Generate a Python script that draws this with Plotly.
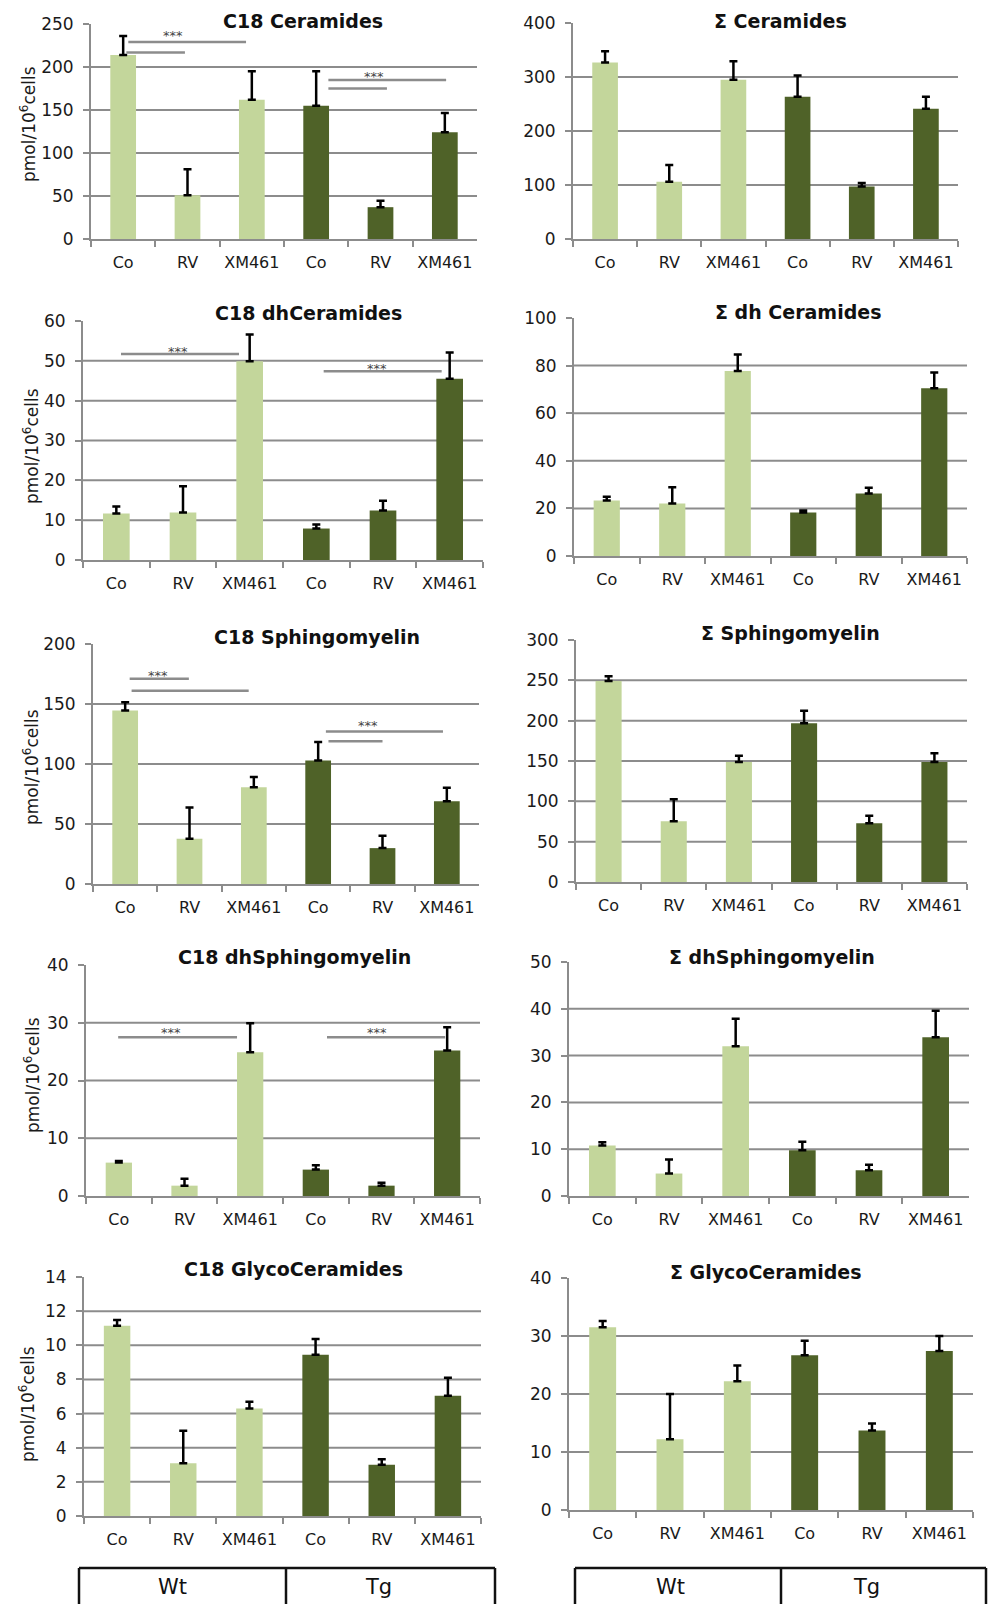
import plotly.graph_objects as go

# ---------------- data ----------------
groups = ["Wt", "Wt", "Wt", "Tg", "Tg", "Tg"]
treatments = ["Co", "RV", "XM461", "Co", "RV", "XM461"]
x_ids = [g + " " + t for g, t in zip(groups, treatments)]

titles = ["C18 Ceramides", "Σ Ceramides", "C18 dhCeramides", "Σ dh Ceramides",
          "C18 Sphingomyelin", "Σ Sphingomyelin", "C18 dhSphingomyelin",
          "Σ dhSphingomyelin", "C18 GlycoCeramides", "Σ GlycoCeramides"]

c18_cer = [214, 51, 162, 155, 37, 124]
c18_cer_sd = [22, 30, 33, 40, 7.6, 22.5]
sum_cer = [327, 106, 295, 263.6, 97, 241]
sum_cer_sd = [20.5, 31, 34, 39.4, 6.7, 22.6]
c18_dhcer = [11.7, 11.95, 49.9, 7.9, 12.4, 45.5]
c18_dhcer_sd = [1.7, 6.55, 6.7, 1.0, 2.5, 6.6]
sum_dhcer = [23.3, 22.1, 77.7, 18.3, 26.3, 70.5]
sum_dhcer_sd = [1.6, 6.8, 7.0, 0.8, 2.4, 6.6]
c18_sm = [144.6, 37.7, 80.6, 103, 29.9, 69]
c18_sm_sd = [6.9, 26, 8.6, 15.3, 10.3, 11.3]
sum_sm = [249.2, 75.2, 148.8, 196.7, 72.7, 148.8]
sum_sm_sd = [5.8, 27.3, 7.8, 15.7, 9.5, 10.7]
c18_dhsm = [5.78, 1.79, 24.9, 4.57, 1.79, 25.2]
c18_dhsm_sd = [0.3, 1.2, 5.0, 0.75, 0.5, 4.0]
sum_dhsm = [10.8, 4.8, 32, 9.8, 5.5, 33.9]
sum_dhsm_sd = [0.7, 3.0, 5.9, 1.8, 1.2, 5.7]
c18_glc = [11.15, 3.09, 6.29, 9.45, 3.0, 7.05]
c18_glc_sd = [0.33, 1.9, 0.4, 0.92, 0.32, 1.05]
sum_glc = [31.5, 12.2, 22.2, 26.7, 13.7, 27.4]
sum_glc_sd = [1.1, 7.8, 2.7, 2.5, 1.2, 2.6]

y_max = [250, 400, 60, 100, 200, 300, 40, 50, 14, 40]
y_step = [50, 100, 10, 20, 50, 50, 10, 10, 2, 10]

# significance bars: (panel index, from category index, to category index, level)
sig_panel = [0, 0, 0, 0, 2, 2, 4, 4, 4, 4, 6, 6]
sig_from = [0.08, 0.05, 3.19, 3.19, 0.07, 3.11, 0.07, 0.10, 3.12, 3.16, -0.01, 3.17]
sig_to = [1.91, 0.96, 5.02, 4.10, 1.84, 4.88, 0.99, 1.92, 4.94, 4.00, 1.80, 4.97]
sig_level = [229, 217, 185, 175, 51.7, 47.4, 171, 161, 127, 119, 27.5, 27.5]
star_panel = [0, 0, 2, 2, 4, 4, 6, 6]
star_x = [0.78, 3.90, 0.93, 3.91, 0.51, 3.78, 0.79, 3.93]
star_y = [240, 192, 53.2, 48.8, 176, 135, 28.9, 28.9]

group_labels = ["Wt", "Tg"]

means = [c18_cer, sum_cer, c18_dhcer, sum_dhcer, c18_sm, sum_sm,
         c18_dhsm, sum_dhsm, c18_glc, sum_glc]
sds = [c18_cer_sd, sum_cer_sd, c18_dhcer_sd, sum_dhcer_sd, c18_sm_sd, sum_sm_sd,
       c18_dhsm_sd, sum_dhsm_sd, c18_glc_sd, sum_glc_sd]

# ---------------- layout constants (pixels) ----------------
W, H = 988, 1604
boxes = [(91, 477, 24, 239), (573, 958, 23, 239),
         (83, 483, 321, 560), (574, 967, 318, 556),
         (93, 479, 644, 884), (576, 967, 640, 882),
         (86, 480, 965, 1196), (569, 969, 962, 1196),
         (84, 481, 1277, 1516), (569, 973, 1278, 1510)]
title_pos = [(303, 21), (780, 21), (308, 313), (798, 312), (317, 637),
             (790, 633), (294, 957), (772, 957), (293, 1269), (766, 1272)]
ytitle_pos = [(28, 124), (31, 446), (31, 767), (32, 1075), (27, 1404)]

LIGHT = "#C3D69B"
DARK = "#4F6228"
GRID = "#8c8c8c"
FONT = "DejaVu Sans"


def px(x):
    return x / W


def py(y):
    return 1 - y / H


fig = go.Figure()
shapes = []
annotations = []
colors = [LIGHT if g == "Wt" else DARK for g in groups]

for i in range(10):
    n = i + 1
    xn = "x" if n == 1 else f"x{n}"
    yn = "y" if n == 1 else f"y{n}"
    xl, xr, yt, yb = boxes[i]
    fig.add_trace(go.Bar(
        x=x_ids, y=means[i], marker=dict(color=colors, line=dict(width=0)),
        error_y=dict(type="data", array=sds[i], arrayminus=[0] * 6, symmetric=False,
                     color="black", thickness=2.5, width=4),
        xaxis=xn, yaxis=yn, showlegend=False, hoverinfo="skip"))
    axkey = "" if n == 1 else str(n)
    fig.update_layout(**{
        f"xaxis{axkey}": dict(
            domain=[px(xl), px(xr)], anchor=yn, type="category", automargin=False,
            categoryorder="array", categoryarray=x_ids, tickvals=x_ids,
            ticktext=treatments, tickson="boundaries", ticks="outside",
            ticklen=6, tickwidth=2, tickcolor=GRID, showline=True,
            linecolor=GRID, linewidth=2, showgrid=False, zeroline=False,
            range=[-0.5, 5.5], ticklabelstandoff=8, tickangle=0, fixedrange=True,
            tickfont=dict(family=FONT, size=16, color="#1a1a1a")),
        f"yaxis{axkey}": dict(
            domain=[py(yb), py(yt)], anchor=xn, range=[0, y_max[i]], automargin=False,
            tick0=0, dtick=y_step[i], ticks="outside", ticklen=6, tickwidth=2,
            tickcolor=GRID, showline=True, linecolor=GRID, linewidth=2,
            showgrid=False, zeroline=False, ticklabelstandoff=6, fixedrange=True,
            tickfont=dict(family=FONT, size=17, color="#1a1a1a")),
    })
    v = y_step[i]
    while v < y_max[i] - 1e-9:
        shapes.append(dict(type="line", xref=f"{xn} domain", yref=yn, x0=0, x1=1,
                           y0=v, y1=v, line=dict(color=GRID, width=2), layer="below"))
        v += y_step[i]
    tx, ty = title_pos[i]
    annotations.append(dict(text="<b>" + titles[i] + "</b>", xref="paper", yref="paper",
                            x=px(tx), y=py(ty), xanchor="center", yanchor="middle",
                            showarrow=False, font=dict(family=FONT, size=19, color="#111")))

for p, a, b, lv in zip(sig_panel, sig_from, sig_to, sig_level):
    n = p + 1
    xn = "x" if n == 1 else f"x{n}"
    yn = "y" if n == 1 else f"y{n}"
    shapes.append(dict(type="line", xref=xn, yref=yn, x0=a, x1=b, y0=lv, y1=lv,
                       line=dict(color=GRID, width=2.5), layer="above"))
for p, sx, sy in zip(star_panel, star_x, star_y):
    n = p + 1
    xn = "x" if n == 1 else f"x{n}"
    yn = "y" if n == 1 else f"y{n}"
    annotations.append(dict(text="***", xref=xn, yref=yn, x=sx, y=sy, xanchor="center",
                            yanchor="middle", yshift=-3, showarrow=False,
                            font=dict(family=FONT, size=13, color="#444")))

for (tx, ty) in ytitle_pos:
    annotations.append(dict(text="pmol/10<sup>6</sup>cells", xref="paper", yref="paper",
                            x=px(tx), y=py(ty), xanchor="center", yanchor="middle",
                            textangle=-90, showarrow=False,
                            font=dict(family=FONT, size=17, color="#1a1a1a")))

# group table boxes under the two columns
table_x = [(79, 286, 495), (575, 781, 986)]
label_x = [(172, 378), (670, 866)]
top, bottom = 1568, 1610
for (l, m, r), (lx1, lx2) in zip(table_x, label_x):
    shapes.append(dict(type="line", xref="paper", yref="paper", x0=px(l), x1=px(r),
                       y0=py(top), y1=py(top), line=dict(color="#111", width=2.5)))
    for xv in (l, m, r):
        shapes.append(dict(type="line", xref="paper", yref="paper", x0=px(xv), x1=px(xv),
                           y0=py(top), y1=py(bottom), line=dict(color="#111", width=2.5)))
    for lab, lx in zip(group_labels, (lx1, lx2)):
        annotations.append(dict(text=lab, xref="paper", yref="paper", x=px(lx),
                                y=py(1587), xanchor="center", yanchor="middle",
                                showarrow=False,
                                font=dict(family=FONT, size=21, color="#111")))

fig.update_layout(width=W, height=H, margin=dict(l=0, r=0, t=0, b=0, pad=0, autoexpand=False),
                  paper_bgcolor="white", plot_bgcolor="white", bargap=0.6,
                  shapes=shapes, annotations=annotations,
                  font=dict(family=FONT))
fig.write_html("out.html", config={"displayModeBar": False},
               post_script="document.body.style.margin='0';"
                           "document.body.style.overflow='hidden';")
